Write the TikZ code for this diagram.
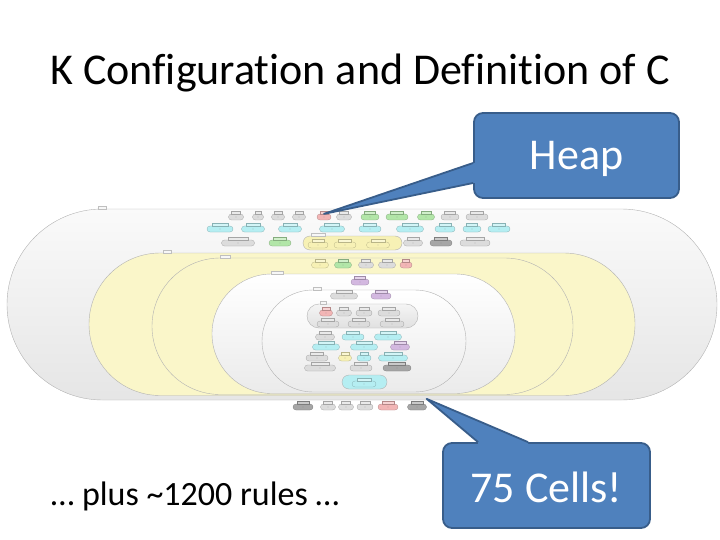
\documentclass[tikz,border=0pt]{standalone}
\usepackage{fontspec}
\setmainfont{Carlito}[Ligatures={NoCommon}]
\usetikzlibrary{shapes.misc}
\definecolor{cellgray}{HTML}{DCDCDC}
\definecolor{cellcyan}{HTML}{B5EEF2}
\definecolor{cellgreen}{HTML}{B2E6A8}
\definecolor{cellpink}{HTML}{F2B5B5}
\definecolor{cellyellow}{HTML}{F7F1B5}
\definecolor{cellpurple}{HTML}{D3B8E0}
\definecolor{celldark}{HTML}{A6A6A6}
\definecolor{bagyellow}{HTML}{FAF6C9}
\definecolor{callfill}{HTML}{4F81BD}
\definecolor{callline}{HTML}{385D8A}
\begin{document}
\begin{tikzpicture}[x=1pt,y=-1pt,
  bag/.style={rounded rectangle,draw=black!30,line width=0.4pt,inner sep=0pt},
  celltab/.style={draw=black!25,fill=black!3,line width=0.3pt,minimum height=3pt,minimum width=#1,inner sep=0pt},
  cell/.style 2 args={rounded corners=3pt,draw=#2!75!black,fill=#2,line width=0.3pt,
    minimum width=#1,minimum height=6pt,inner sep=0pt,label distance=-1pt,
    path picture={\fill[black!50] (path picture bounding box.center) circle (0.45pt);},
    label={[celltab=0.6*#1,fill=#2!60,draw=#2!75!black]north:{}}},
  callout/.style={rounded corners=9pt,fill=callfill,draw=callline,line width=1.8pt,
    text=white,font=\fontsize{44}{50}\selectfont,text depth=0pt}]
\useasboundingbox (0,0) rectangle (720,540);
\node[anchor=base,font=\fontsize{44}{53}\selectfont] (title) at (360,85) {K Configuration and Definition of C};
% nested cells of the configuration
\node[bag,minimum width=710,minimum height=191,top color=black!2,bottom color=black!10] (tbag) at (362,304.5) {};
\node[bag,minimum width=546,minimum height=142.5,fill=bagyellow] (statebag) at (362,324.25) {};
\node[bag,minimum width=421,minimum height=136.5,fill=bagyellow] (threadsbag) at (362.5,326.25) {};
\node[bag,minimum width=303,minimum height=119.5,top color=white,bottom color=black!8] (threadbag) at (363.5,333.75) {};
\node[bag,minimum width=204,minimum height=102,top color=white,bottom color=black!8] (ctrlbag) at (364,341) {};
\node[bag,minimum width=111,minimum height=24,top color=black!4,bottom color=black!12] (localbag) at (362.5,316) {};
\node[bag,minimum width=99,minimum height=14,fill=cellyellow] (typesbag) at (352.5,243) {};
\node[bag,minimum width=45,minimum height=14,fill=cellcyan] (kbag) at (364.5,382) {};
\foreach \x/\y/\w [count=\i] in {102/208/8,167/252/8,225/257/10,277/273/12,317/289/8,323/303/6,318/235/14}
  \node[celltab=\w] (bagtab\i) at (\x,\y) {};
% cells in the outer bag
\foreach \x/\y/\w/\c [count=\i] in {236/217/15/cellgray,258/217/11/cellgray,278/217/13/cellgray,
    299/217/13/cellgray,324/217/14/cellpink,344/217/15/cellgray,370/217/18/cellgreen,
    397/217/22/cellgreen,426/217/17/cellgreen,450/217/18/cellgray,477/217/22/cellgray,
    220/229/26/cellcyan,253/229/23/cellcyan,290/229/23/cellcyan,332/229/25/cellcyan,
    370/229/22/cellcyan,410/229/27/cellcyan,445/229/20/cellcyan,472/229/18/cellcyan,
    499/229/22/cellcyan,238/243/33/cellgray,280/243/22/cellgreen,318/245/20/cellyellow,
    345/245/22/cellyellow,378/245/23/cellyellow,413/243/19/cellgray,441/243/22/celldark,
    475/243/30/cellgray}
  \node[cell={\w}{\c}] (t\i) at (\x,\y) {};
\foreach \x/\w/\c [count=\i] in {320/17/cellyellow,343/17/cellgreen,366/15/cellgray,387/17/cellgray,406/12/cellpink}
  \node[cell={\w}{\c}] (s\i) at (\x,265) {};
% cells of one thread
\foreach \x/\y/\w/\c [count=\i] in {360/282/18/cellpurple,344/296/27/cellgray,381/296/20/cellpurple,
    326/313/13/cellpink,344/313/15/cellgray,364/313/16/cellgray,389/313/22/cellgray,
    328/324/22/cellgray,359/324/22/cellgray,392/324/24/cellgray,
    325/337/19/cellgray,353/337/22/cellcyan,388/337/27/cellcyan,
    326/347/27/cellcyan,364/347/27/cellcyan,400/347/19/cellpurple,
    317/358/22/cellgray,345/358/13/cellyellow,364/358/14/cellcyan,393/358/29/cellcyan,
    320/368/31/cellgray,361/368/22/cellgray,397/368/28/celldark,364/384/24/cellcyan}
  \node[cell={\w}{\c}] (h\i) at (\x,\y) {};
\foreach \x/\w/\c [count=\i] in {303/20/celldark,328/15/cellgray,346/15/cellgray,365/16/cellgray,388/20/cellpink,417/19/celldark}
  \node[cell={\w}{\c}] (b\i) at (\x,407) {};
\node[anchor=base,font=\fontsize{34}{40}\selectfont] (rules) at (195,505) {… plus \textasciitilde1200 rules …};
% callouts
\node[callout,minimum width=205,minimum height=85,text height=29pt] (heap) at (576.5,155.5) {Heap};
\fill[callfill] (t5.north) -- ([yshift=-7.5pt]heap.west) -- ([xshift=4pt,yshift=-7.5pt]heap.west)
  -- ([xshift=4pt,yshift=-27.5pt]heap.west) -- ([yshift=-27.5pt]heap.west) -- cycle;
\draw[callline,line width=1.8pt,line join=round] ([yshift=-7.5pt]heap.west) -- (t5.north) -- ([yshift=-27.5pt]heap.west);
\coordinate (celltip) at ([yshift=5pt]b6.north east);
\node[callout,minimum width=207,minimum height=85,text height=33pt] (cells) at (546.5,485.5) {75 Cells!};
\fill[callfill] (celltip) -- ([xshift=-68.5pt]cells.north) -- ([xshift=-68.5pt,yshift=-4pt]cells.north)
  -- ([xshift=-18.5pt,yshift=-4pt]cells.north) -- ([xshift=-18.5pt]cells.north) -- cycle;
\draw[callline,line width=1.8pt,line join=round] ([xshift=-68.5pt]cells.north) -- (celltip) -- ([xshift=-18.5pt]cells.north);
\end{tikzpicture}
\end{document}
